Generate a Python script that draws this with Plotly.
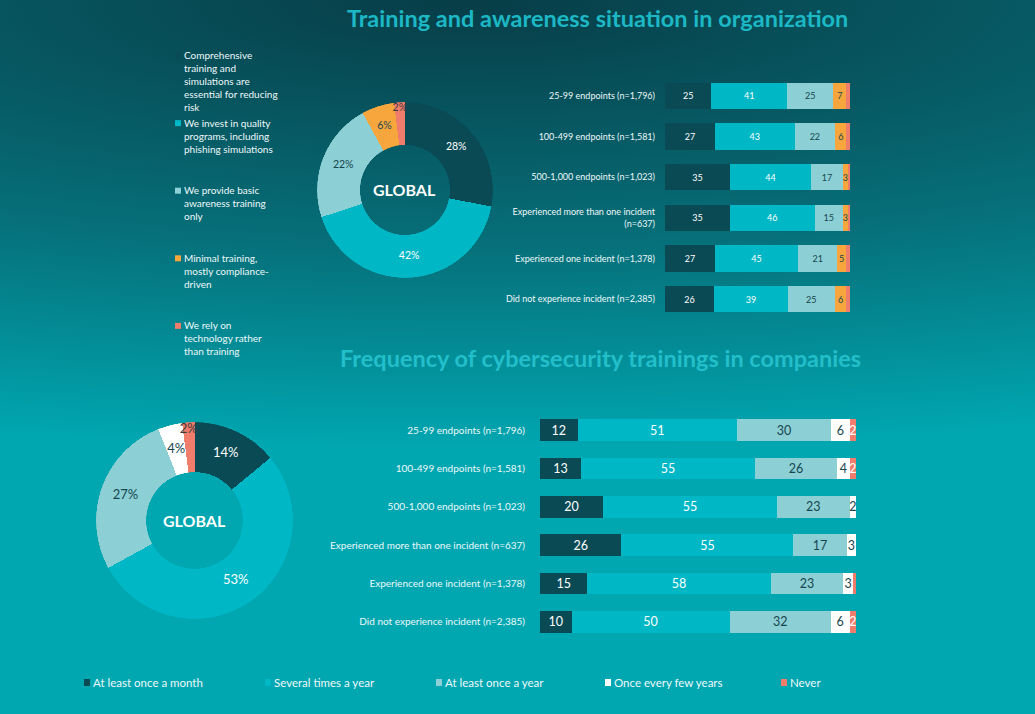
import base64
import plotly.graph_objects as go

W, H = 1035, 714

# ---------------- data ----------------
top_title = "Training and awareness situation in organization"
bottom_title = "Frequency of cybersecurity trainings in companies"
center_label = "GLOBAL"

awareness_labels = [
    "Comprehensive<br>training and<br>simulations are<br>essential for reducing<br>risk",
    "We invest in quality<br>programs, including<br>phishing simulations",
    "We provide basic<br>awareness training<br>only",
    "Minimal training,<br>mostly compliance-<br>driven",
    "We rely on<br>technology rather<br>than training",
]
awareness_global = [28, 42, 22, 6, 2]

top_segments = [
    "25-99 endpoints (n=1,796)",
    "100-499 endpoints (n=1,581)",
    "500-1,000 endpoints (n=1,023)",
    "Experienced more than one incident<br>(n=637)",
    "Experienced one incident (n=1,378)",
    "Did not experience incident (n=2,385)",
]
aw_comprehensive = [25, 27, 35, 35, 27, 26]
aw_quality = [41, 43, 44, 46, 45, 39]
aw_basic = [25, 22, 17, 15, 21, 25]
aw_minimal = [7, 6, 3, 3, 5, 6]
aw_technology = [2, 2, 1, 1, 2, 2]

frequency_labels = ["At least once a month", "Several times a year", "At least once a year",
                    "Once every few years", "Never"]
frequency_global = [14, 53, 27, 4, 2]

bottom_segments = [
    "25-99 endpoints (n=1,796)",
    "100-499 endpoints (n=1,581)",
    "500-1,000 endpoints (n=1,023)",
    "Experienced more than one incident (n=637)",
    "Experienced one incident (n=1,378)",
    "Did not experience incident (n=2,385)",
]
fr_monthly = [12, 13, 20, 26, 15, 10]
fr_several = [51, 55, 55, 55, 58, 50]
fr_yearly = [30, 26, 23, 17, 23, 32]
fr_few_years = [6, 4, 2, 3, 3, 6]
fr_never = [2, 2, 0, 0, 1, 2]

# ---------------- style ----------------
FONT = "Lato"
DARK = "#0a4a55"
CYAN = "#00b7c5"
LIGHT = "#8ccfd4"
ORANGE = "#f6a63d"
SALMON = "#f07c6c"
WHITE = "#ffffff"
TXT_DARK = "#16464f"
TXT_LIGHT = "#eef8f9"
TITLE_C = "#1cb8c5"

top_colors = [DARK, CYAN, LIGHT, ORANGE, SALMON]
top_bar_text = [WHITE, WHITE, TXT_DARK, TXT_DARK, WHITE]
top_ring_text = [WHITE, WHITE, TXT_DARK, TXT_DARK, "#3b3b3b"]
bot_colors = [DARK, CYAN, LIGHT, WHITE, SALMON]
bot_bar_text = [WHITE, WHITE, TXT_DARK, TXT_DARK, WHITE]
bot_ring_text = [WHITE, WHITE, TXT_DARK, TXT_DARK, "#3b3b3b"]

# label radius within the ring (0 = inner edge, 1 = outer edge); thin slices pushed outward
LABEL_R = 0.5
THIN_LABEL_R = 0.85
THIN_SHARE = 0.03

fig = go.Figure()


def add_ring(values, labels, colors, text_colors, font_size, subplot):
    """Donut drawn on a polar subplot: one angular bar per share, labels at mid-angle."""
    total = float(sum(values))
    widths, mids, cum = [], [], 0.0
    for v in values:
        widths.append(360.0 * v / total)
        mids.append(360.0 * (cum + v / 2.0) / total)
        cum += v
    radii = [THIN_LABEL_R if v / total < THIN_SHARE else LABEL_R for v in values]
    names = [lab.replace("<br>", " ") for lab in labels]
    fig.add_trace(go.Barpolar(
        theta=mids, width=widths, r=[1] * len(values), subplot=subplot,
        marker=dict(color=colors, line=dict(width=0)),
        text=names, customdata=values, hovertemplate="%{text}: %{customdata}%<extra></extra>",
        showlegend=False,
    ))
    fig.add_trace(go.Scatterpolar(
        theta=mids, r=radii, subplot=subplot, mode="text",
        text=[f"{v}%" for v in values], textposition="middle center",
        textfont=dict(family=FONT, size=font_size, color=text_colors),
        hoverinfo="skip", showlegend=False,
    ))


add_ring(awareness_global, awareness_labels, top_colors, top_ring_text, 10.5, "polar")
add_ring(frequency_global, frequency_labels, bot_colors, bot_ring_text, 13, "polar2")

# ---- top bars ----
top_series = [aw_comprehensive, aw_quality, aw_basic, aw_minimal, aw_technology]
top_show = [True, True, True, True, False]
for i, vals in enumerate(top_series):
    fig.add_trace(go.Bar(
        y=top_segments, x=vals, orientation="h", xaxis="x", yaxis="y",
        width=0.64, marker=dict(color=top_colors[i], line=dict(width=0)),
        text=[str(v) if (v and top_show[i]) else "" for v in vals],
        texttemplate="%{text}", textposition="inside", insidetextanchor="middle",
        constraintext="none", textangle=0,
        textfont=dict(family=FONT, size=9, color=top_bar_text[i]),
        name=awareness_labels[i].replace("<br>", " "), showlegend=False,
    ))

# ---- bottom bars ----
bot_series = [fr_monthly, fr_several, fr_yearly, fr_few_years, fr_never]
for i, vals in enumerate(bot_series):
    fig.add_trace(go.Bar(
        y=bottom_segments, x=vals, orientation="h", xaxis="x2", yaxis="y2",
        width=0.57, marker=dict(color=bot_colors[i], line=dict(width=0)),
        text=[str(v) if v >= 2 else "" for v in vals],
        texttemplate="%{text}", textposition="inside", insidetextanchor="middle",
        constraintext="none", textangle=0,
        textfont=dict(family=FONT, size=12.5, color=bot_bar_text[i]),
        name=frequency_labels[i], showlegend=False,
    ))

# ---------------- background gradient ----------------
svg = f'''<svg xmlns="http://www.w3.org/2000/svg" width="{W}" height="{H}" viewBox="0 0 {W} {H}" preserveAspectRatio="none">
<defs><radialGradient id="g" gradientUnits="userSpaceOnUse" cx="470" cy="0" r="450"
 gradientTransform="translate(470 0) scale(4.1 1) translate(-470 0)">
<stop offset="0" stop-color="#073d47"/><stop offset="0.55" stop-color="#06707a"/>
<stop offset="1" stop-color="#00a7b1"/></radialGradient></defs>
<rect width="{W}" height="{H}" fill="url(#g)"/></svg>'''
bg_src = "data:image/svg+xml;base64," + base64.b64encode(svg.encode()).decode()

# ---------------- annotations & legend marks ----------------
top_ring_box = dict(x=[317 / W, 493 / W], y=[1 - 278 / H, 1 - 102 / H])
bot_ring_box = dict(x=[96 / W, 293 / W], y=[1 - 619 / H, 1 - 422 / H])

annotations = [
    dict(text="<b>" + top_title + "</b>", x=597 / W, y=1 - 18 / H, xref="paper", yref="paper",
         showarrow=False, xanchor="center", yanchor="middle",
         font=dict(family=FONT, size=23.5, color=TITLE_C)),
    dict(text="<b>" + bottom_title + "</b>", x=600 / W, y=1 - 358 / H, xref="paper", yref="paper",
         showarrow=False, xanchor="center", yanchor="middle",
         font=dict(family=FONT, size=23.5, color="#22bfcb")),
]
for box in (top_ring_box, bot_ring_box):
    annotations.append(dict(
        text="<b>" + center_label + "</b>", x=sum(box["x"]) / 2, y=sum(box["y"]) / 2,
        xref="paper", yref="paper", showarrow=False, xanchor="center", yanchor="middle",
        font=dict(family=FONT, size=16, color=WHITE)))
shapes = []

# top legend (vertical)
top_leg_x = 183
top_leg_first = 55.5
top_leg_step = 67.6
for i, lab in enumerate(awareness_labels):
    yc = top_leg_first + top_leg_step * i
    annotations.append(dict(
        text=lab, x=top_leg_x / W, y=1 - (yc - 7.5) / H, xref="paper", yref="paper",
        showarrow=False, xanchor="left", yanchor="top", align="left",
        font=dict(family=FONT, size=10, color=TXT_LIGHT), borderpad=0))
    shapes.append(dict(type="rect", xref="paper", yref="paper",
                       x0=175 / W, x1=181 / W, y0=1 - (yc + 3) / H, y1=1 - (yc - 3) / H,
                       fillcolor=top_colors[i], line=dict(width=0)))

# bottom legend (horizontal)
bot_leg_x = [84, 265, 436, 605, 781]
bot_leg_y = 682
for i, lab in enumerate(frequency_labels):
    x0 = bot_leg_x[i]
    annotations.append(dict(
        text=lab, x=(x0 + 7) / W, y=1 - bot_leg_y / H, xref="paper", yref="paper",
        showarrow=False, xanchor="left", yanchor="middle",
        font=dict(family=FONT, size=11.5, color=TXT_LIGHT)))
    shapes.append(dict(type="rect", xref="paper", yref="paper",
                       x0=x0 / W, x1=(x0 + 6) / W, y0=1 - (bot_leg_y + 4) / H,
                       y1=1 - (bot_leg_y - 3) / H,
                       fillcolor=bot_colors[i], line=dict(width=0)))

polar_common = dict(
    bgcolor="rgba(0,0,0,0)", bargap=0,
    radialaxis=dict(range=[0, 1], visible=False),
    angularaxis=dict(rotation=90, direction="clockwise", visible=False),
)

fig.update_layout(
    width=W, height=H, margin=dict(l=0, r=0, t=0, b=0),
    paper_bgcolor="#07707a", plot_bgcolor="rgba(0,0,0,0)",
    barmode="stack", barnorm="percent",
    font=dict(family=FONT, color=TXT_LIGHT),
    images=[dict(source=bg_src, xref="paper", yref="paper", x=0, y=1, sizex=1, sizey=1,
                 xanchor="left", yanchor="top", sizing="stretch", layer="below")],
    annotations=annotations, shapes=shapes,
    polar=dict(domain=top_ring_box, hole=0.51, **polar_common),
    polar2=dict(domain=bot_ring_box, hole=0.49, **polar_common),
    xaxis=dict(domain=[665 / W, 850 / W], range=[0, 100], visible=False, anchor="y",
               fixedrange=True),
    yaxis=dict(domain=[1 - 319.5 / H, 1 - 75.5 / H], type="category", autorange="reversed",
               showgrid=False, zeroline=False, showline=False, ticks="", anchor="x",
               ticklabelstandoff=9, tickfont=dict(family=FONT, size=9, color=TXT_LIGHT)),
    xaxis2=dict(domain=[540 / W, 856 / W], range=[0, 100], visible=False, anchor="y2",
                fixedrange=True),
    yaxis2=dict(domain=[1 - 641 / H, 1 - 411 / H], type="category", autorange="reversed",
                showgrid=False, zeroline=False, showline=False, ticks="", anchor="x2",
                ticklabelstandoff=14, tickfont=dict(family=FONT, size=10, color=TXT_LIGHT)),
)

fig.write_html("out.html")
